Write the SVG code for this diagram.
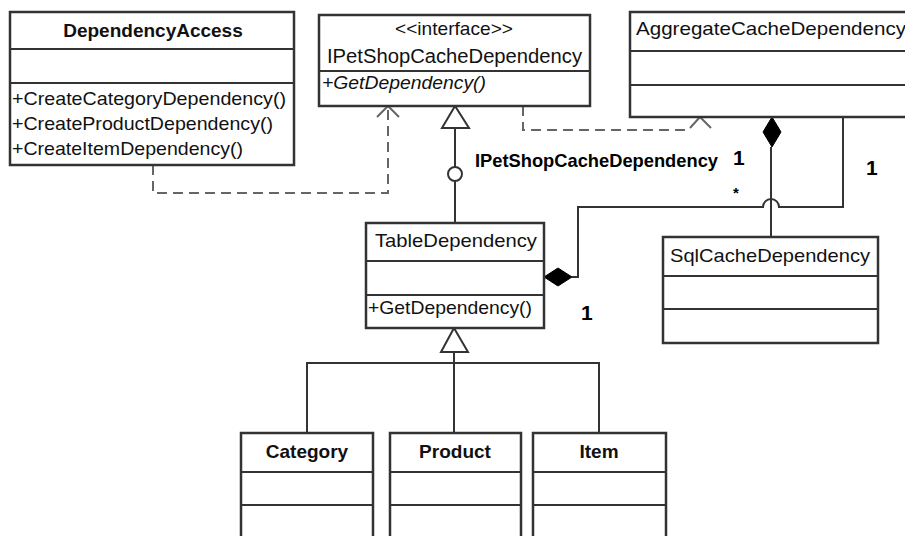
<svg xmlns="http://www.w3.org/2000/svg" width="905" height="536" viewBox="0 0 905 536">
  <style>
    .box { fill: #ffffff; stroke: #333333; stroke-width: 2.5; }
    .sep { stroke: #333333; stroke-width: 2; }
    .t { font-family: "Liberation Sans", Arial, sans-serif; font-size: 19px; fill: #111111; }
    .b { font-weight: bold; }
    .i { font-style: italic; }
    .line { fill: none; stroke: #333333; stroke-width: 2; }
    .dash { fill: none; stroke: #666666; stroke-width: 2; stroke-dasharray: 10 6; }
    .open { fill: none; stroke: #666666; stroke-width: 2; }
    .hollow { fill: #ffffff; stroke: #333333; stroke-width: 2; stroke-linejoin: miter; }
    .solid { fill: #000000; stroke: #000000; stroke-width: 1; }
    .lbl { font-family: "Liberation Sans", Arial, sans-serif; font-size: 21px; font-weight: bold; fill: #000000; }
  </style>

  <!-- connectors -->
  <g id="connectors">
    <!-- DependencyAccess uses IPetShopCacheDependency -->
    <path class="dash" d="M153,165 V193 H388 V108"/>
    <path class="open" d="M377,117 L388,106 L399,117"/>
    <!-- AggregateCacheDependency uses IPetShopCacheDependency -->
    <path class="dash" d="M523,106 V130 H690"/>
    <path class="open" d="M690,128 L700,117 L711,128"/>
    <!-- TableDependency realizes IPetShopCacheDependency -->
    <path class="line" d="M455,128 V167"/>
    <path class="line" d="M455,181 V223"/>
    <circle cx="455" cy="174" r="7" fill="#ffffff" stroke="#333333" stroke-width="2"/>
    <polygon class="hollow" points="455,106 442,128 469,128"/>
    <text class="lbl" x="475" y="167" style="font-size:19px" textLength="243" lengthAdjust="spacingAndGlyphs">IPetShopCacheDependency</text>
    <!-- Aggregate composes SqlCacheDependency -->
    <path class="line" d="M771,147 V237"/>
    <polygon class="solid" points="772,117 763,132 772,147 781,132"/>
    <text class="lbl" x="733" y="165">1</text>
    <text class="lbl" x="733" y="198" style="font-size:15px">*</text>
    <!-- Aggregate composes TableDependency -->
    <path class="line" d="M843,117 V207 H779 A8,8 0 0 0 763,207 H578 V277 H572"/>
    <polygon class="solid" points="544,277 558,268 572,277 558,286"/>
    <text class="lbl" x="866" y="175">1</text>
    <text class="lbl" x="581" y="320">1</text>
    <!-- subclasses of TableDependency -->
    <path class="line" d="M454,352 V433"/>
    <path class="line" d="M307,433 V363 H599 V433"/>
    <polygon class="hollow" points="454,328 441,352 468,352"/>
  </g>

  <!-- DependencyAccess -->
  <g id="DependencyAccess">
    <rect class="box" x="10" y="12" width="284" height="153"/>
    <line class="sep" x1="10" y1="49" x2="294" y2="49"/>
    <line class="sep" x1="10" y1="83" x2="294" y2="83"/>
    <text class="t b" x="153" y="37" text-anchor="middle">DependencyAccess</text>
    <text class="t" x="12" y="105" textLength="274" lengthAdjust="spacingAndGlyphs">+CreateCategoryDependency()</text>
    <text class="t" x="12" y="130" textLength="261" lengthAdjust="spacingAndGlyphs">+CreateProductDependency()</text>
    <text class="t" x="12" y="155" textLength="231" lengthAdjust="spacingAndGlyphs">+CreateItemDependency()</text>
  </g>

  <!-- IPetShopCacheDependency -->
  <g id="IPetShopCacheDependency">
    <rect class="box" x="319" y="15" width="271" height="91"/>
    <line class="sep" x1="319" y1="71" x2="590" y2="71"/>
    <text class="t" x="395" y="35" textLength="118" lengthAdjust="spacingAndGlyphs">&lt;&lt;interface&gt;&gt;</text>
    <text class="t" x="327" y="63" style="font-size:20px" textLength="255" lengthAdjust="spacingAndGlyphs">IPetShopCacheDependency</text>
    <text class="t i" x="322" y="89" textLength="164" lengthAdjust="spacingAndGlyphs">+GetDependency()</text>
  </g>

  <!-- AggregateCacheDependency -->
  <g id="AggregateCacheDependency">
    <rect class="box" x="630" y="12" width="300" height="105"/>
    <line class="sep" x1="630" y1="51" x2="930" y2="51"/>
    <line class="sep" x1="630" y1="85" x2="930" y2="85"/>
    <text class="t" x="636" y="35" textLength="270" lengthAdjust="spacingAndGlyphs">AggregateCacheDependency</text>
  </g>

  <!-- TableDependency -->
  <g id="TableDependency">
    <rect class="box" x="366" y="223" width="178" height="105"/>
    <line class="sep" x1="366" y1="261" x2="544" y2="261"/>
    <line class="sep" x1="366" y1="295" x2="544" y2="295"/>
    <text class="t" x="375" y="247" textLength="162" lengthAdjust="spacingAndGlyphs">TableDependency</text>
    <text class="t" x="368" y="314" textLength="164" lengthAdjust="spacingAndGlyphs">+GetDependency()</text>
  </g>

  <!-- SqlCacheDependency -->
  <g id="SqlCacheDependency">
    <rect class="box" x="663" y="237" width="215" height="106"/>
    <line class="sep" x1="663" y1="276" x2="878" y2="276"/>
    <line class="sep" x1="663" y1="309" x2="878" y2="309"/>
    <text class="t" x="670" y="262" textLength="200" lengthAdjust="spacingAndGlyphs">SqlCacheDependency</text>
  </g>

  <!-- Category -->
  <g id="Category">
    <rect class="box" x="241" y="433" width="132" height="115"/>
    <line class="sep" x1="241" y1="472" x2="373" y2="472"/>
    <line class="sep" x1="241" y1="505" x2="373" y2="505"/>
    <text class="t b" x="307" y="458" text-anchor="middle">Category</text>
  </g>

  <!-- Product -->
  <g id="Product">
    <rect class="box" x="390" y="433" width="131" height="115"/>
    <line class="sep" x1="390" y1="472" x2="521" y2="472"/>
    <line class="sep" x1="390" y1="505" x2="521" y2="505"/>
    <text class="t b" x="455" y="458" text-anchor="middle">Product</text>
  </g>

  <!-- Item -->
  <g id="Item">
    <rect class="box" x="533" y="433" width="133" height="115"/>
    <line class="sep" x1="533" y1="472" x2="666" y2="472"/>
    <line class="sep" x1="533" y1="505" x2="666" y2="505"/>
    <text class="t b" x="599" y="458" text-anchor="middle">Item</text>
  </g>
</svg>
